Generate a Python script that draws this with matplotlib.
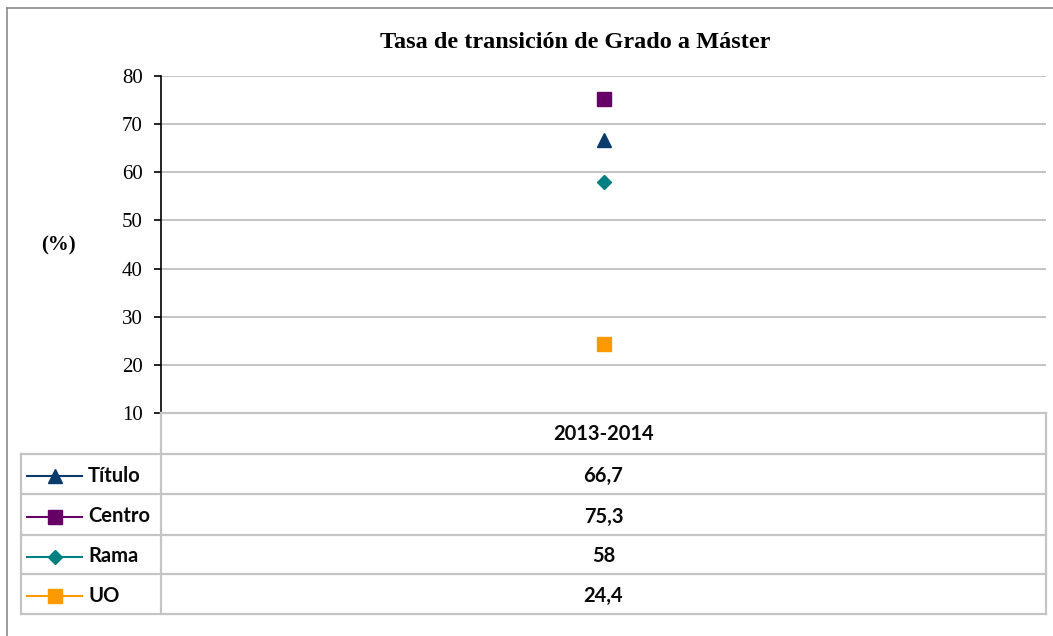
import matplotlib
matplotlib.use("Agg")
import matplotlib.pyplot as plt
from matplotlib.lines import Line2D

# Data
categories = ["2013-2014"]
series_names = ["Título", "Centro", "Rama", "UO"]
series_values = [66.7, 75.3, 58.0, 24.4]
series_labels = ["66,7", "75,3", "58", "24,4"]
series_colors = ["#0b3a6c", "#660066", "#008080", "#ff9900"]
series_markers = ["^", "s", "D", "s"]
y_ticks = [10, 20, 30, 40, 50, 60, 70, 80]

W, H = 1053, 636
fig = plt.figure(figsize=(W / 100, H / 100), dpi=100)
fig.patch.set_facecolor("white")

# plot region in pixels
L, R, T, B = 161, 1046, 76, 413
ax = fig.add_axes([L / W, 1 - B / H, (R - L) / W, (B - T) / H])
ax.set_facecolor("none")
ax.set_ylim(10, 80)
ax.set_xlim(-0.5, len(categories) - 0.5)
ax.set_yticks(y_ticks)
ax.set_yticklabels([str(v) for v in y_ticks], family="Liberation Serif", fontsize=15)
ax.set_xticks([])
for s in ("top", "right", "bottom"):
    ax.spines[s].set_visible(False)
ax.spines["left"].set_color("black")
ax.spines["left"].set_linewidth(1.2)
ax.tick_params(axis="y", direction="out", length=5, width=1.2, color="black", pad=8)
ax.yaxis.grid(True, color="#c4c4c4", linewidth=1.4)
ax.set_axisbelow(True)

ms = {"^": 10, "s": 10, "D": 7.5}
for name, val, col, mk in zip(series_names, series_values, series_colors, series_markers):
    ax.plot([0], [val], linestyle="none", marker=mk, markersize=ms[mk],
            color=col, markeredgecolor=col, zorder=3)

# overlay in pixel coordinates for frame, title and data table
ov = fig.add_axes([0, 0, 1, 1])
ov.set_xlim(0, W)
ov.set_ylim(H, 0)
ov.axis("off")

frame_col = "#8a8a8a"
ov.plot([7, W], [8, 8], color=frame_col, linewidth=1.2)
ov.plot([7, 7], [8, H], color=frame_col, linewidth=1.2)

ov.text((376 + 775) / 2, 42, "Tasa de transición de Grado a Máster",
        ha="center", va="center", family="Liberation Serif", fontweight="bold", fontsize=17.5)
ov.text(58, 245, "(%)", ha="center", va="center", family="Liberation Serif",
        fontweight="bold", fontsize=15)

grid_col = "#c4c4c4"
lw = 1.6
row_edges = [454, 494, 535, 574, 614]
TL = 21
ov.plot([L, L], [B, row_edges[-1]], color=grid_col, linewidth=lw)
ov.plot([R, R], [B, row_edges[-1]], color=grid_col, linewidth=lw)
ov.plot([TL, TL], [row_edges[0], row_edges[-1]], color=grid_col, linewidth=lw)
ov.plot([L, R], [B, B], color=grid_col, linewidth=lw)
for y in row_edges:
    ov.plot([TL, R], [y, y], color=grid_col, linewidth=lw)

tfont = dict(family="Lato", fontweight="bold", fontsize=14.5, color="#0a0a0a")
xc = (L + R) / 2
ov.text(xc, (B + row_edges[0]) / 2 + 1, categories[0], ha="center", va="center", **tfont)
for i, (name, lab, col, mk) in enumerate(zip(series_names, series_labels,
                                             series_colors, series_markers)):
    yc = (row_edges[i] + row_edges[i + 1]) / 2 + 2
    ov.text(xc, yc, lab, ha="center", va="center", **tfont)
    ov.text(88, yc, name, ha="left", va="center", **tfont)
    ov.add_line(Line2D([27, 82], [yc, yc], color=col, linewidth=1.5))
    ov.plot([54.5], [yc], marker=mk, markersize=ms[mk], color=col,
            markeredgecolor=col, linestyle="none")

fig.savefig("out.png", dpi=100)
